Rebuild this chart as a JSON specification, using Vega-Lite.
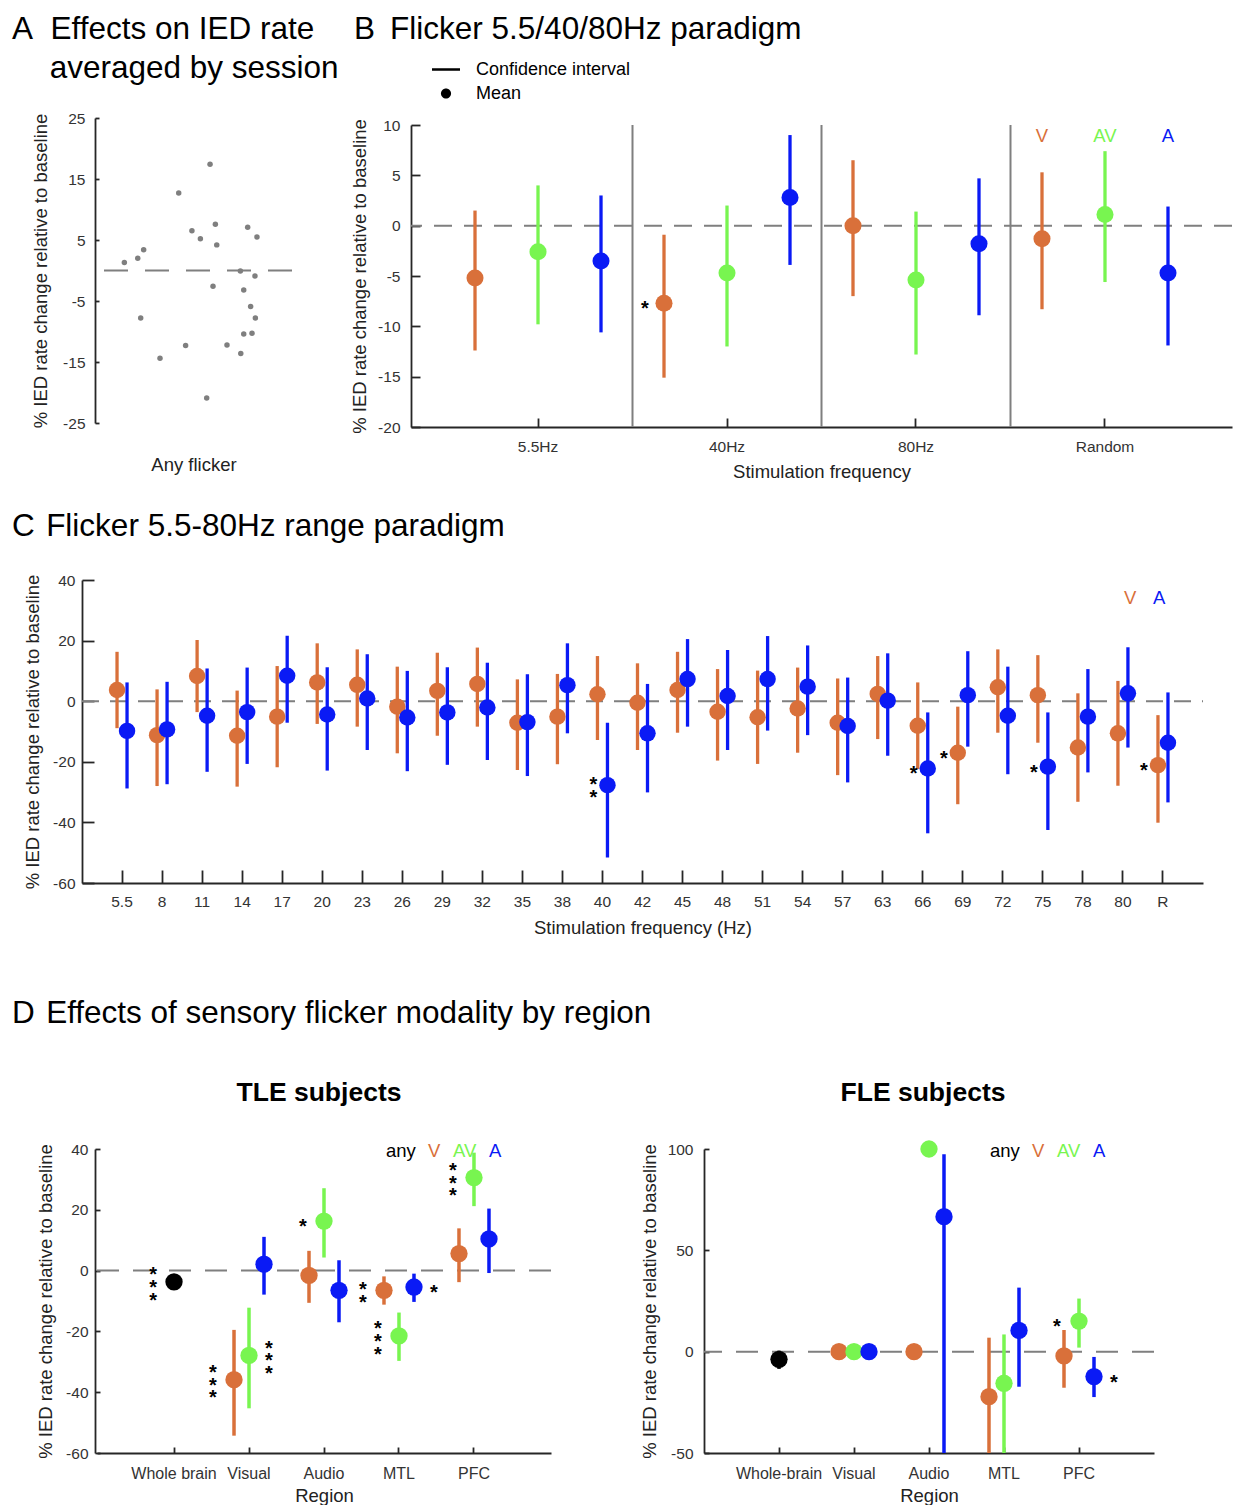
{
  "$schema": "https://vega.github.io/schema/vega-lite/v6.json",
  "padding": {"left": 12, "top": 13, "right": 5, "bottom": 5},
  "config": {
    "font": "Liberation Sans",
    "view": {"stroke": null},
    "axis": {"grid": false, "labelOverlap": false, "domainColor": "#262626", "domainWidth": 1.8, "tickColor": "#262626", "tickWidth": 1.8, "labelColor": "#333333", "labelFontSize": 15.5, "labelFont": "Liberation Sans", "titleFont": "Liberation Sans", "titleFontSize": 18.5, "titleFontWeight": "normal", "titleColor": "#222222"},
    "title": {"font": "Liberation Sans", "fontSize": 31.5, "fontWeight": "normal", "color": "#000000", "anchor": "start", "frame": "group"},
    "legend": {"labelFont": "Liberation Sans", "labelFontSize": 18.5, "labelColor": "#000000", "padding": 0},
    "text": {"font": "Liberation Sans"}
  },
  "datasets": {
    "a": [
      {"jitter": 0.149, "value": 1.3}, {"jitter": 0.217, "value": 2.0}, {"jitter": 0.247, "value": 3.4},
      {"jitter": 0.232, "value": -7.8}, {"jitter": 0.330, "value": -14.4}, {"jitter": 0.425, "value": 12.7},
      {"jitter": 0.460, "value": -12.3}, {"jitter": 0.492, "value": 6.5}, {"jitter": 0.535, "value": 5.2},
      {"jitter": 0.567, "value": -20.9}, {"jitter": 0.584, "value": 17.4}, {"jitter": 0.599, "value": -2.6},
      {"jitter": 0.611, "value": 7.6}, {"jitter": 0.618, "value": 4.2}, {"jitter": 0.670, "value": -12.2},
      {"jitter": 0.738, "value": -0.1}, {"jitter": 0.740, "value": -13.6}, {"jitter": 0.755, "value": -10.4},
      {"jitter": 0.755, "value": -3.2}, {"jitter": 0.775, "value": 7.1}, {"jitter": 0.790, "value": -5.9},
      {"jitter": 0.797, "value": -10.3}, {"jitter": 0.812, "value": -0.9}, {"jitter": 0.814, "value": -7.8},
      {"jitter": 0.822, "value": 5.5}
    ],
    "b": [
      {"freq": "5.5Hz", "mod": "V", "mean": -5.2, "lo": -12.4, "hi": 1.5, "sig": ""},
      {"freq": "5.5Hz", "mod": "AV", "mean": -2.6, "lo": -9.8, "hi": 4.0, "sig": ""},
      {"freq": "5.5Hz", "mod": "A", "mean": -3.5, "lo": -10.6, "hi": 3.0, "sig": ""},
      {"freq": "40Hz", "mod": "V", "mean": -7.7, "lo": -15.1, "hi": -0.9, "sig": "*"},
      {"freq": "40Hz", "mod": "AV", "mean": -4.7, "lo": -12.0, "hi": 2.0, "sig": ""},
      {"freq": "40Hz", "mod": "A", "mean": 2.8, "lo": -3.9, "hi": 9.0, "sig": ""},
      {"freq": "80Hz", "mod": "V", "mean": 0.0, "lo": -7.0, "hi": 6.5, "sig": ""},
      {"freq": "80Hz", "mod": "AV", "mean": -5.4, "lo": -12.8, "hi": 1.4, "sig": ""},
      {"freq": "80Hz", "mod": "A", "mean": -1.8, "lo": -8.9, "hi": 4.7, "sig": ""},
      {"freq": "Random", "mod": "V", "mean": -1.3, "lo": -8.3, "hi": 5.3, "sig": ""},
      {"freq": "Random", "mod": "AV", "mean": 1.1, "lo": -5.6, "hi": 7.4, "sig": ""},
      {"freq": "Random", "mod": "A", "mean": -4.7, "lo": -11.9, "hi": 1.9, "sig": ""}
    ],
    "c": [
      {"freq": "5.5", "mod": "V", "mean": 3.7, "lo": -8.9, "hi": 16.3, "sig": ""},
      {"freq": "5.5", "mod": "A", "mean": -9.8, "lo": -28.8, "hi": 6.2, "sig": ""},
      {"freq": "8", "mod": "V", "mean": -11.2, "lo": -28.0, "hi": 3.9, "sig": ""},
      {"freq": "8", "mod": "A", "mean": -9.3, "lo": -27.4, "hi": 6.4, "sig": ""},
      {"freq": "11", "mod": "V", "mean": 8.3, "lo": -3.6, "hi": 20.2, "sig": ""},
      {"freq": "11", "mod": "A", "mean": -4.8, "lo": -23.3, "hi": 10.8, "sig": ""},
      {"freq": "14", "mod": "V", "mean": -11.4, "lo": -28.2, "hi": 3.5, "sig": ""},
      {"freq": "14", "mod": "A", "mean": -3.6, "lo": -20.7, "hi": 11.1, "sig": ""},
      {"freq": "17", "mod": "V", "mean": -5.1, "lo": -21.8, "hi": 11.6, "sig": ""},
      {"freq": "17", "mod": "A", "mean": 8.4, "lo": -7.1, "hi": 21.6, "sig": ""},
      {"freq": "20", "mod": "V", "mean": 6.2, "lo": -7.5, "hi": 19.1, "sig": ""},
      {"freq": "20", "mod": "A", "mean": -4.4, "lo": -22.9, "hi": 11.2, "sig": ""},
      {"freq": "23", "mod": "V", "mean": 5.4, "lo": -8.4, "hi": 17.1, "sig": ""},
      {"freq": "23", "mod": "A", "mean": 0.9, "lo": -16.1, "hi": 15.5, "sig": ""},
      {"freq": "26", "mod": "V", "mean": -1.8, "lo": -17.2, "hi": 11.4, "sig": ""},
      {"freq": "26", "mod": "A", "mean": -5.4, "lo": -23.1, "hi": 10.0, "sig": ""},
      {"freq": "29", "mod": "V", "mean": 3.4, "lo": -11.4, "hi": 16.0, "sig": ""},
      {"freq": "29", "mod": "A", "mean": -3.7, "lo": -21.0, "hi": 11.2, "sig": ""},
      {"freq": "32", "mod": "V", "mean": 5.7, "lo": -8.4, "hi": 17.7, "sig": ""},
      {"freq": "32", "mod": "A", "mean": -2.1, "lo": -19.4, "hi": 12.7, "sig": ""},
      {"freq": "35", "mod": "V", "mean": -7.1, "lo": -22.7, "hi": 7.2, "sig": ""},
      {"freq": "35", "mod": "A", "mean": -6.9, "lo": -24.7, "hi": 8.9, "sig": ""},
      {"freq": "38", "mod": "V", "mean": -5.1, "lo": -20.8, "hi": 9.0, "sig": ""},
      {"freq": "38", "mod": "A", "mean": 5.3, "lo": -10.6, "hi": 19.1, "sig": ""},
      {"freq": "40", "mod": "V", "mean": 2.3, "lo": -12.8, "hi": 14.9, "sig": ""},
      {"freq": "40", "mod": "A", "mean": -27.7, "lo": -51.6, "hi": -7.1, "sig": "*\n*"},
      {"freq": "42", "mod": "V", "mean": -0.5, "lo": -16.1, "hi": 12.5, "sig": ""},
      {"freq": "42", "mod": "A", "mean": -10.6, "lo": -30.1, "hi": 5.7, "sig": ""},
      {"freq": "45", "mod": "V", "mean": 3.7, "lo": -10.4, "hi": 16.3, "sig": ""},
      {"freq": "45", "mod": "A", "mean": 7.3, "lo": -8.4, "hi": 20.5, "sig": ""},
      {"freq": "48", "mod": "V", "mean": -3.5, "lo": -19.6, "hi": 10.6, "sig": ""},
      {"freq": "48", "mod": "A", "mean": 1.7, "lo": -16.1, "hi": 16.9, "sig": ""},
      {"freq": "51", "mod": "V", "mean": -5.3, "lo": -20.7, "hi": 10.1, "sig": ""},
      {"freq": "51", "mod": "A", "mean": 7.3, "lo": -9.7, "hi": 21.5, "sig": ""},
      {"freq": "54", "mod": "V", "mean": -2.4, "lo": -17.0, "hi": 11.1, "sig": ""},
      {"freq": "54", "mod": "A", "mean": 4.8, "lo": -11.2, "hi": 18.4, "sig": ""},
      {"freq": "57", "mod": "V", "mean": -7.1, "lo": -24.4, "hi": 7.5, "sig": ""},
      {"freq": "57", "mod": "A", "mean": -8.2, "lo": -26.8, "hi": 7.8, "sig": ""},
      {"freq": "63", "mod": "V", "mean": 2.4, "lo": -12.5, "hi": 14.9, "sig": ""},
      {"freq": "63", "mod": "A", "mean": 0.2, "lo": -18.0, "hi": 15.8, "sig": ""},
      {"freq": "66", "mod": "V", "mean": -8.1, "lo": -22.4, "hi": 6.2, "sig": ""},
      {"freq": "66", "mod": "A", "mean": -22.2, "lo": -43.6, "hi": -3.7, "sig": "*"},
      {"freq": "69", "mod": "V", "mean": -17.0, "lo": -34.0, "hi": -1.8, "sig": "*"},
      {"freq": "69", "mod": "A", "mean": 2.0, "lo": -15.0, "hi": 16.5, "sig": ""},
      {"freq": "72", "mod": "V", "mean": 4.6, "lo": -10.4, "hi": 17.1, "sig": ""},
      {"freq": "72", "mod": "A", "mean": -4.8, "lo": -24.1, "hi": 11.4, "sig": ""},
      {"freq": "75", "mod": "V", "mean": 2.0, "lo": -13.7, "hi": 15.2, "sig": ""},
      {"freq": "75", "mod": "A", "mean": -21.6, "lo": -42.5, "hi": -3.7, "sig": "*"},
      {"freq": "78", "mod": "V", "mean": -15.3, "lo": -33.2, "hi": 2.6, "sig": ""},
      {"freq": "78", "mod": "A", "mean": -5.1, "lo": -23.5, "hi": 10.6, "sig": ""},
      {"freq": "80", "mod": "V", "mean": -10.6, "lo": -27.9, "hi": 6.7, "sig": ""},
      {"freq": "80", "mod": "A", "mean": 2.6, "lo": -15.3, "hi": 17.8, "sig": ""},
      {"freq": "R", "mod": "V", "mean": -21.1, "lo": -40.1, "hi": -4.6, "sig": "*"},
      {"freq": "R", "mod": "A", "mean": -13.7, "lo": -33.4, "hi": 2.9, "sig": ""}
    ],
    "tle": [
      {"region": "Whole brain", "mod": "any", "mean": -3.7, "lo": -5.5, "hi": -2.0, "sigL": "*\n*\n*", "sigR": ""},
      {"region": "Visual", "mod": "V", "mean": -35.9, "lo": -54.3, "hi": -19.5, "sigL": "*\n*\n*", "sigR": ""},
      {"region": "Visual", "mod": "AV", "mean": -27.9, "lo": -45.3, "hi": -12.2, "sigL": "", "sigR": "*\n*\n*"},
      {"region": "Visual", "mod": "A", "mean": 2.1, "lo": -7.9, "hi": 11.1, "sigL": "", "sigR": ""},
      {"region": "Audio", "mod": "V", "mean": -1.6, "lo": -10.6, "hi": 6.5, "sigL": "", "sigR": ""},
      {"region": "Audio", "mod": "AV", "mean": 16.3, "lo": 4.3, "hi": 27.1, "sigL": "*", "sigR": ""},
      {"region": "Audio", "mod": "A", "mean": -6.5, "lo": -17.0, "hi": 3.4, "sigL": "", "sigR": ""},
      {"region": "MTL", "mod": "V", "mean": -6.5, "lo": -11.2, "hi": -1.9, "sigL": "*\n*", "sigR": ""},
      {"region": "MTL", "mod": "AV", "mean": -21.5, "lo": -29.7, "hi": -13.8, "sigL": "*\n*\n*", "sigR": ""},
      {"region": "MTL", "mod": "A", "mean": -5.4, "lo": -10.3, "hi": -1.0, "sigL": "", "sigR": "*"},
      {"region": "PFC", "mod": "V", "mean": 5.6, "lo": -3.8, "hi": 13.9, "sigL": "", "sigR": ""},
      {"region": "PFC", "mod": "AV", "mean": 30.6, "lo": 21.2, "hi": 38.8, "sigL": "*\n*\n*", "sigR": ""},
      {"region": "PFC", "mod": "A", "mean": 10.4, "lo": -0.8, "hi": 20.4, "sigL": "", "sigR": ""}
    ],
    "fle": [
      {"region": "Whole-brain", "mod": "any", "mean": -3.8, "lo": -8.5, "hi": 0.5, "sigL": "", "sigR": ""},
      {"region": "Visual", "mod": "V", "mean": 0, "lo": null, "hi": null, "sigL": "", "sigR": ""},
      {"region": "Visual", "mod": "AV", "mean": 0, "lo": null, "hi": null, "sigL": "", "sigR": ""},
      {"region": "Visual", "mod": "A", "mean": 0, "lo": null, "hi": null, "sigL": "", "sigR": ""},
      {"region": "Audio", "mod": "V", "mean": 0, "lo": null, "hi": null, "sigL": "", "sigR": ""},
      {"region": "Audio", "mod": "AV", "mean": 100, "lo": null, "hi": null, "sigL": "", "sigR": ""},
      {"region": "Audio", "mod": "A", "mean": 66.6, "lo": -50, "hi": 97.4, "sigL": "", "sigR": ""},
      {"region": "MTL", "mod": "V", "mean": -22.2, "lo": -50, "hi": 6.9, "sigL": "", "sigR": ""},
      {"region": "MTL", "mod": "AV", "mean": -15.6, "lo": -50, "hi": 8.5, "sigL": "", "sigR": ""},
      {"region": "MTL", "mod": "A", "mean": 10.5, "lo": -17.3, "hi": 31.6, "sigL": "", "sigR": ""},
      {"region": "PFC", "mod": "V", "mean": -2.1, "lo": -17.8, "hi": 10.7, "sigL": "", "sigR": ""},
      {"region": "PFC", "mod": "AV", "mean": 15.1, "lo": 2.0, "hi": 26.2, "sigL": "*", "sigR": ""},
      {"region": "PFC", "mod": "A", "mean": -12.3, "lo": -22.4, "hi": -2.6, "sigL": "", "sigR": "*"}
    ]
  },
  "resolve": {"scale": {"color": "independent", "shape": "independent", "xOffset": "independent"}, "legend": {"color": "independent", "shape": "independent"}},
  "spacing": 61,
  "vconcat": [
    {
      "spacing": 29,
      "resolve": {"scale": {"color": "independent", "shape": "independent", "xOffset": "independent"}, "legend": {"color": "independent", "shape": "independent"}},
      "vconcat": [
        {
          "spacing": 11,
          "resolve": {"scale": {"color": "independent", "shape": "independent", "xOffset": "independent"}, "legend": {"color": "independent", "shape": "independent"}},
          "hconcat": [
            {
              "width": 197, "height": 305,
              "title": {"text": ["A\u00a0\u00a0Effects on IED rate", "\u200b\u00a0\u00a0\u00a0\u00a0\u200aaveraged by session"], "dx": -83, "lineHeight": 39, "offset": 27},
              "layer": [
                {"data": {"values": [{}]}, "mark": {"type": "rule", "color": "#7f7f7f", "strokeWidth": 2, "strokeDash": [24, 17]}, "encoding": {"y": {"datum": 0, "type": "quantitative"}}},
                {"data": {"name": "a"}, "mark": {"type": "point", "filled": true, "size": 30, "color": "#7f7f7f", "opacity": 1},
                  "encoding": {
                    "x": {"field": "jitter", "type": "quantitative", "scale": {"domain": [0, 1], "nice": false}, "axis": {"title": "Any flicker", "domain": false, "ticks": false, "labels": false, "titlePadding": 32}},
                    "y": {"field": "value", "type": "quantitative", "scale": {"domain": [-25, 25], "nice": false}, "axis": {"title": "% IED rate change relative to baseline", "values": [-25, -20, -15, -10, -5, 0, 5, 10, 15, 20, 25], "tickSize": -4, "labelPadding": 14, "titlePadding": 12, "labelExpr": "'' + datum.value"}}
                  }}
              ]
            },
            {
              "width": 821, "height": 309,
              "title": {"text": "B\u00a0\u2009Flicker 5.5/40/80Hz paradigm", "dx": -57, "offset": 9.5},
              "data": {"name": "b"},
              "layer": [
                {"transform": [{"filter": "datum.mod === 'V' && datum.freq !== '5.5Hz'"}],
                  "mark": {"type": "rule", "color": "#7f7f7f", "strokeWidth": 2},
                  "encoding": {
                    "x": {"field": "freq", "type": "nominal", "bandPosition": 0, "scale": {"domain": ["5.5Hz", "40Hz", "80Hz", "Random"], "paddingInner": 0, "paddingOuter": 0.172}, "axis": {"title": "Stimulation frequency", "labelAngle": 0, "tickSize": -9, "labelPadding": 21, "titlePadding": 8}},
                    "y": {"datum": 10, "type": "quantitative"},
                    "y2": {"datum": -20}
                  }},
                {"transform": [{"filter": "datum.mod === 'V' && datum.freq === '5.5Hz'"}],
                  "mark": {"type": "rule", "color": "#7f7f7f", "strokeWidth": 2, "strokeDash": [18, 12]},
                  "encoding": {"y": {"datum": 0, "type": "quantitative"}}},
                {"mark": {"type": "rule", "strokeWidth": 3.3},
                  "encoding": {
                    "x": {"field": "freq", "type": "nominal"},
                    "xOffset": {"field": "mod", "type": "nominal", "scale": {"domain": ["V", "AV", "A"], "paddingInner": 0, "paddingOuter": 0}},
                    "y": {"field": "lo", "type": "quantitative", "scale": {"domain": [-20, 10], "nice": false, "range": [309, 7]}, "axis": {"title": "% IED rate change relative to baseline", "values": [-20, -15, -10, -5, 0, 5, 10], "tickSize": -9, "labelPadding": 20, "titlePadding": 8, "labelExpr": "'' + datum.value"}},
                    "y2": {"field": "hi"},
                    "color": {"field": "mod", "type": "nominal", "scale": {"domain": ["V", "AV", "A"], "range": ["#D9703A", "#78F550", "#0A1AF5"]}, "legend": null}
                  }},
                {"mark": {"type": "circle", "size": 290, "opacity": 1},
                  "encoding": {
                    "x": {"field": "freq", "type": "nominal"},
                    "xOffset": {"field": "mod", "type": "nominal"},
                    "y": {"field": "mean", "type": "quantitative"},
                    "color": {"field": "mod", "type": "nominal", "legend": null}
                  }},
                {"mark": {"type": "point", "opacity": 0, "filled": true, "color": "#000000"},
                  "encoding": {
                    "x": {"field": "freq", "type": "nominal"},
                    "xOffset": {"field": "mod", "type": "nominal"},
                    "y": {"field": "mean", "type": "quantitative"},
                    "shape": {"datum": "Mean", "type": "nominal", "scale": {"domain": ["Confidence interval", "Mean"], "range": ["M-1,-0.09H1V0.09H-1Z", "M-0.36,0A0.36,0.36,0,1,1,0.36,0A0.36,0.36,0,1,1,-0.36,0Z"]},
                      "legend": {"title": null, "orient": "none", "legendX": 20, "legendY": -63.5, "symbolSize": 784, "labelFontSize": 18, "labelOffset": 15, "rowPadding": 0,
                        "encode": {"symbols": {"update": {"fill": {"value": "#000000"}, "fillOpacity": {"value": 1}, "opacity": {"value": 1}}}}}}
                  }},
                {"mark": {"type": "text", "fontSize": 20, "fontWeight": "bold", "dx": -19, "dy": 6, "color": "#000000"},
                  "encoding": {
                    "x": {"field": "freq", "type": "nominal"},
                    "xOffset": {"field": "mod", "type": "nominal"},
                    "y": {"field": "mean", "type": "quantitative"},
                    "text": {"field": "sig"}
                  }},
                {"transform": [{"filter": "datum.freq === 'Random'"}],
                  "mark": {"type": "text", "fontSize": 18.5, "baseline": "middle"},
                  "encoding": {
                    "x": {"field": "freq", "type": "nominal"},
                    "xOffset": {"field": "mod", "type": "nominal"},
                    "y": {"datum": 8.9, "type": "quantitative"},
                    "text": {"field": "mod"},
                    "color": {"field": "mod", "type": "nominal", "legend": null}
                  }}
              ]
            }
          ]
        },
        {
          "width": 1108, "height": 303,
          "title": {"text": "C\u00a0\u200aFlicker 5.5-80Hz range paradigm", "dx": -83, "offset": 31},
          "data": {"name": "c"},
          "resolve": {"scale": {"x": "independent"}, "axis": {"x": "independent"}},
          "layer": [
            {"data": {"values": [{}]},
              "mark": {"type": "rule", "color": "#7f7f7f", "strokeWidth": 2, "strokeDash": [17, 11]},
              "encoding": {
                "x": {"datum": 0, "type": "quantitative", "scale": {"domain": [0, 1], "range": [-13, 1108]}, "axis": null},
                "x2": {"datum": 1},
                "y": {"datum": 0, "type": "quantitative"}
              }},
            {"layer": [
              {"mark": {"type": "rule", "strokeWidth": 3.3},
                "encoding": {
                  "x": {"field": "freq", "type": "nominal", "scale": {"domain": ["5.5", "8", "11", "14", "17", "20", "23", "26", "29", "32", "35", "38", "40", "42", "45", "48", "51", "54", "57", "63", "66", "69", "72", "75", "78", "80", "R"], "range": [-13, 1108], "paddingInner": 0, "paddingOuter": 0.5}, "axis": {"title": "Stimulation frequency (Hz)", "labelAngle": 0, "tickSize": -13, "labelPadding": 24, "titlePadding": 9}},
                  "xOffset": {"field": "mod", "type": "nominal", "scale": {"domain": ["V", "A"], "paddingInner": 0, "paddingOuter": 1.275}},
                  "y": {"field": "lo", "type": "quantitative", "scale": {"domain": [-60, 40], "nice": false}, "axis": {"title": "% IED rate change relative to baseline", "values": [-60, -40, -20, 0, 20, 40], "offset": 13, "tickSize": -12, "labelPadding": 19, "titlePadding": 10, "labelExpr": "'' + datum.value"}},
                  "y2": {"field": "hi"},
                  "color": {"field": "mod", "type": "nominal", "scale": {"domain": ["V", "A"], "range": ["#D9703A", "#0A1AF5"]}}
                }},
              {"mark": {"type": "circle", "size": 270, "opacity": 1},
                "encoding": {
                  "x": {"field": "freq", "type": "nominal"},
                  "xOffset": {"field": "mod", "type": "nominal"},
                  "y": {"field": "mean", "type": "quantitative"},
                  "color": {"field": "mod", "type": "nominal",
                    "legend": {"title": null, "orient": "none", "legendX": 1029, "legendY": 9, "direction": "horizontal", "symbolSize": 0, "symbolOpacity": 0, "symbolStrokeWidth": 0, "labelOffset": -18.5, "columnPadding": 16, "labelFontSize": 18.5,
                      "encode": {"symbols": {"update": {"size": {"value": 0}, "strokeWidth": {"value": 0}, "opacity": {"value": 0}}}, "labels": {"update": {"fill": {"signal": "datum.value === 'V' ? '#D9703A' : datum.value === 'AV' ? '#78F550' : datum.value === 'A' ? '#0A1AF5' : '#000000'"}}}}}}
                }},
              {"transform": [{"filter": "length(datum.sig) === 1"}],
                "mark": {"type": "text", "fontSize": 20, "fontWeight": "bold", "dx": -14, "dy": 6, "color": "#000000"},
                "encoding": {
                  "x": {"field": "freq", "type": "nominal"},
                  "xOffset": {"field": "mod", "type": "nominal"},
                  "y": {"field": "mean", "type": "quantitative"},
                  "text": {"field": "sig"}
                }},
              {"transform": [{"filter": "length(datum.sig) === 3"}],
                "mark": {"type": "text", "fontSize": 20, "fontWeight": "bold", "dx": -14, "dy": -0.5, "lineBreak": "\n", "lineHeight": 13, "color": "#000000"},
                "encoding": {
                  "x": {"field": "freq", "type": "nominal"},
                  "xOffset": {"field": "mod", "type": "nominal"},
                  "y": {"field": "mean", "type": "quantitative"},
                  "text": {"field": "sig"}
                }}
            ]}
          ]
        }
      ]
    },
    {
      "title": {"text": "D\u00a0\u200aEffects of sensory flicker modality by region", "dx": -83, "offset": 50},
      "spacing": 88,
      "resolve": {"scale": {"color": "independent", "shape": "independent", "xOffset": "independent"}, "legend": {"color": "independent", "shape": "independent"}},
      "hconcat": [
        {
          "width": 456, "height": 304,
          "title": {"text": "TLE subjects", "anchor": "middle", "fontWeight": "bold", "fontSize": 26.5, "offset": 36, "dx": -4},
          "data": {"name": "tle"},
          "layer": [
            {"transform": [{"filter": "datum.mod === 'any'"}],
              "mark": {"type": "rule", "color": "#7f7f7f", "strokeWidth": 2, "strokeDash": [22, 14]},
              "encoding": {"y": {"datum": 0, "type": "quantitative"}}},
            {"transform": [{"filter": "datum.mod !== 'any'"}],
              "mark": {"type": "rule", "strokeWidth": 3.5},
              "encoding": {
                "x": {"field": "region", "type": "nominal", "scale": {"domain": ["Whole brain", "Visual", "Audio", "MTL", "PFC"], "range": [2, 456], "paddingInner": 0, "paddingOuter": 0.527}, "axis": {"title": "Region", "labelAngle": 0, "tickSize": -6, "labelPadding": 18, "titlePadding": 5, "labelFontSize": 16}},
                "xOffset": {"field": "mod", "type": "nominal", "scale": {"domain": ["V", "AV", "A"], "paddingInner": 0, "paddingOuter": 3.39}},
                "y": {"field": "lo", "type": "quantitative", "scale": {"domain": [-60, 40], "nice": false}, "axis": {"title": "% IED rate change relative to baseline", "values": [-60, -40, -20, 0, 20, 40], "tickSize": -5, "labelPadding": 12, "titlePadding": 10, "labelExpr": "'' + datum.value"}},
                "y2": {"field": "hi"},
                "color": {"field": "mod", "type": "nominal", "scale": {"domain": ["any", "V", "AV", "A"], "range": ["#000000", "#D9703A", "#78F550", "#0A1AF5"]}}
              }},
            {"transform": [{"filter": "datum.mod === 'any'"}],
              "mark": {"type": "rule", "strokeWidth": 3.5},
              "encoding": {
                "x": {"field": "region", "type": "nominal"},
                "y": {"field": "lo", "type": "quantitative"},
                "y2": {"field": "hi"},
                "color": {"field": "mod", "type": "nominal"}
              }},
            {"transform": [{"filter": "datum.mod !== 'any'"}],
              "mark": {"type": "circle", "size": 300, "opacity": 1},
              "encoding": {
                "x": {"field": "region", "type": "nominal"},
                "xOffset": {"field": "mod", "type": "nominal"},
                "y": {"field": "mean", "type": "quantitative"},
                "color": {"field": "mod", "type": "nominal",
                  "legend": {"title": null, "orient": "none", "legendX": 291, "legendY": -7, "direction": "horizontal", "symbolSize": 0, "symbolOpacity": 0, "symbolStrokeWidth": 0, "labelOffset": -18.5, "columnPadding": 12, "labelFontSize": 18.5,
                    "encode": {"symbols": {"update": {"size": {"value": 0}, "strokeWidth": {"value": 0}, "opacity": {"value": 0}}}, "labels": {"update": {"fill": {"signal": "datum.value === 'V' ? '#D9703A' : datum.value === 'AV' ? '#78F550' : datum.value === 'A' ? '#0A1AF5' : '#000000'"}}}}}}
              }},
            {"transform": [{"filter": "datum.mod === 'any'"}],
              "mark": {"type": "circle", "size": 300, "opacity": 1},
              "encoding": {
                "x": {"field": "region", "type": "nominal"},
                "y": {"field": "mean", "type": "quantitative"},
                "color": {"field": "mod", "type": "nominal"}
              }},
            {"transform": [{"filter": "datum.mod !== 'any' && length(datum.sigL) === 1"}],
              "mark": {"type": "text", "fontSize": 20, "fontWeight": "bold", "dx": -21, "dy": 6, "color": "#000000"},
              "encoding": {"x": {"field": "region", "type": "nominal"}, "xOffset": {"field": "mod", "type": "nominal"}, "y": {"field": "mean", "type": "quantitative"}, "text": {"field": "sigL"}}},
            {"transform": [{"filter": "datum.mod !== 'any' && length(datum.sigL) === 3"}],
              "mark": {"type": "text", "fontSize": 20, "fontWeight": "bold", "dx": -21, "dy": -0.4, "lineBreak": "\n", "lineHeight": 12.7, "color": "#000000"},
              "encoding": {"x": {"field": "region", "type": "nominal"}, "xOffset": {"field": "mod", "type": "nominal"}, "y": {"field": "mean", "type": "quantitative"}, "text": {"field": "sigL"}}},
            {"transform": [{"filter": "datum.mod !== 'any' && length(datum.sigL) === 5"}],
              "mark": {"type": "text", "fontSize": 20, "fontWeight": "bold", "dx": -21, "dy": -6.7, "lineBreak": "\n", "lineHeight": 12.7, "color": "#000000"},
              "encoding": {"x": {"field": "region", "type": "nominal"}, "xOffset": {"field": "mod", "type": "nominal"}, "y": {"field": "mean", "type": "quantitative"}, "text": {"field": "sigL"}}},
            {"transform": [{"filter": "datum.mod !== 'any' && length(datum.sigR) === 1"}],
              "mark": {"type": "text", "fontSize": 20, "fontWeight": "bold", "dx": 20, "dy": 6, "color": "#000000"},
              "encoding": {"x": {"field": "region", "type": "nominal"}, "xOffset": {"field": "mod", "type": "nominal"}, "y": {"field": "mean", "type": "quantitative"}, "text": {"field": "sigR"}}},
            {"transform": [{"filter": "datum.mod !== 'any' && length(datum.sigR) === 5"}],
              "mark": {"type": "text", "fontSize": 20, "fontWeight": "bold", "dx": 20, "dy": -6.7, "lineBreak": "\n", "lineHeight": 12.7, "color": "#000000"},
              "encoding": {"x": {"field": "region", "type": "nominal"}, "xOffset": {"field": "mod", "type": "nominal"}, "y": {"field": "mean", "type": "quantitative"}, "text": {"field": "sigR"}}},
            {"transform": [{"filter": "datum.mod === 'any' && length(datum.sigL) === 5"}],
              "mark": {"type": "text", "fontSize": 20, "fontWeight": "bold", "dx": -21, "dy": -6.7, "lineBreak": "\n", "lineHeight": 12.7, "color": "#000000"},
              "encoding": {"x": {"field": "region", "type": "nominal"}, "y": {"field": "mean", "type": "quantitative"}, "text": {"field": "sigL"}}}
          ]
        },
        {
          "width": 450, "height": 304,
          "title": {"text": "FLE subjects", "anchor": "middle", "fontWeight": "bold", "fontSize": 26.5, "offset": 34, "dx": -6},
          "data": {"name": "fle"},
          "layer": [
            {"transform": [{"filter": "datum.mod === 'any'"}],
              "mark": {"type": "rule", "color": "#7f7f7f", "strokeWidth": 2, "strokeDash": [22, 14]},
              "encoding": {"y": {"datum": 0, "type": "quantitative"}}},
            {"transform": [{"filter": "datum.mod !== 'any'"}],
              "mark": {"type": "rule", "strokeWidth": 3.5},
              "encoding": {
                "x": {"field": "region", "type": "nominal", "scale": {"domain": ["Whole-brain", "Visual", "Audio", "MTL", "PFC"], "paddingInner": 0, "paddingOuter": 0.5}, "axis": {"title": "Region", "labelAngle": 0, "tickSize": -6, "labelPadding": 18, "titlePadding": 5, "labelFontSize": 16}},
                "xOffset": {"field": "mod", "type": "nominal", "scale": {"domain": ["V", "AV", "A"], "paddingInner": 0, "paddingOuter": 3.39}},
                "y": {"field": "lo", "type": "quantitative", "scale": {"domain": [-50, 100], "nice": false}, "axis": {"title": "% IED rate change relative to baseline", "values": [-50, 0, 50, 100], "tickSize": -5, "labelPadding": 16, "titlePadding": 8, "labelExpr": "'' + datum.value"}},
                "y2": {"field": "hi"},
                "color": {"field": "mod", "type": "nominal", "scale": {"domain": ["any", "V", "AV", "A"], "range": ["#000000", "#D9703A", "#78F550", "#0A1AF5"]}}
              }},
            {"transform": [{"filter": "datum.mod === 'any'"}],
              "mark": {"type": "rule", "strokeWidth": 3.5},
              "encoding": {
                "x": {"field": "region", "type": "nominal"},
                "y": {"field": "lo", "type": "quantitative"},
                "y2": {"field": "hi"},
                "color": {"field": "mod", "type": "nominal"}
              }},
            {"transform": [{"filter": "datum.mod !== 'any'"}],
              "mark": {"type": "circle", "size": 300, "opacity": 1},
              "encoding": {
                "x": {"field": "region", "type": "nominal"},
                "xOffset": {"field": "mod", "type": "nominal"},
                "y": {"field": "mean", "type": "quantitative"},
                "color": {"field": "mod", "type": "nominal",
                  "legend": {"title": null, "orient": "none", "legendX": 286, "legendY": -7, "direction": "horizontal", "symbolSize": 0, "symbolOpacity": 0, "symbolStrokeWidth": 0, "labelOffset": -18.5, "columnPadding": 12, "labelFontSize": 18.5,
                    "encode": {"symbols": {"update": {"size": {"value": 0}, "strokeWidth": {"value": 0}, "opacity": {"value": 0}}}, "labels": {"update": {"fill": {"signal": "datum.value === 'V' ? '#D9703A' : datum.value === 'AV' ? '#78F550' : datum.value === 'A' ? '#0A1AF5' : '#000000'"}}}}}}
              }},
            {"transform": [{"filter": "datum.mod === 'any'"}],
              "mark": {"type": "circle", "size": 300, "opacity": 1},
              "encoding": {
                "x": {"field": "region", "type": "nominal"},
                "y": {"field": "mean", "type": "quantitative"},
                "color": {"field": "mod", "type": "nominal"}
              }},
            {"transform": [{"filter": "datum.mod !== 'any' && length(datum.sigL) === 1"}],
              "mark": {"type": "text", "fontSize": 20, "fontWeight": "bold", "dx": -22, "dy": 6, "color": "#000000"},
              "encoding": {"x": {"field": "region", "type": "nominal"}, "xOffset": {"field": "mod", "type": "nominal"}, "y": {"field": "mean", "type": "quantitative"}, "text": {"field": "sigL"}}},
            {"transform": [{"filter": "datum.mod !== 'any' && length(datum.sigR) === 1"}],
              "mark": {"type": "text", "fontSize": 20, "fontWeight": "bold", "dx": 20, "dy": 6, "color": "#000000"},
              "encoding": {"x": {"field": "region", "type": "nominal"}, "xOffset": {"field": "mod", "type": "nominal"}, "y": {"field": "mean", "type": "quantitative"}, "text": {"field": "sigR"}}}
          ]
        }
      ]
    }
  ]
}
